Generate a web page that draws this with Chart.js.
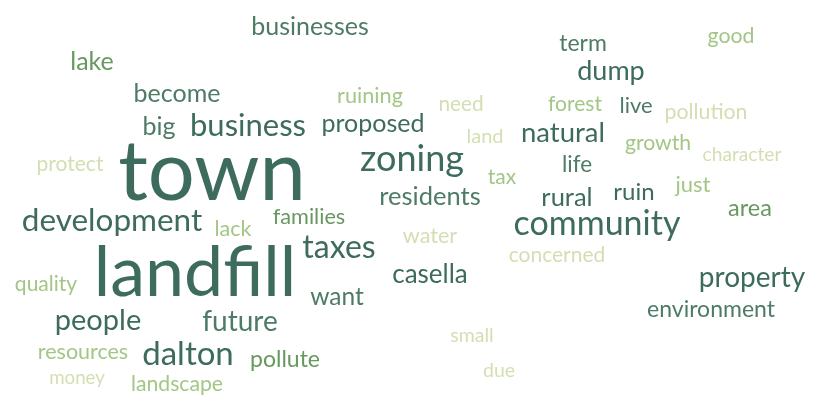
<!DOCTYPE html>
<html>
<head>
<meta charset="utf-8">
<script src="https://cdn.jsdelivr.net/npm/chart.js@4/dist/chart.umd.min.js"></script>
<style>
  html, body { margin: 0; padding: 0; background: #fff; }
  #wrap { width: 823px; height: 396px; }
</style>
</head>
<body>
<div id="wrap"><canvas id="cloud"></canvas></div>
<script>
// word cloud: each word sits at (x, y) on a hidden 823 x 396 grid
const words = ['town', 'landfill', 'zoning', 'community', 'development', 'business', 'natural',
  'dalton', 'taxes', 'people', 'property', 'dump', 'future', 'want', 'proposed', 'residents',
  'casella', 'businesses', 'become', 'big', 'lake', 'term', 'live', 'life', 'ruin', 'rural',
  'environment', 'families', 'pollute', 'area', 'ruining', 'lack', 'quality', 'resources',
  'landscape', 'tax', 'good', 'forest', 'growth', 'just', 'protect', 'need', 'land', 'water',
  'concerned', 'small', 'due', 'money', 'pollution', 'character']
const sizes = [83, 70, 36, 34, 31.5, 31, 27.5,
  33, 32, 29, 28, 27, 28, 24.5, 25, 25.5,
  26, 25, 25, 25, 25, 23, 22, 22.5, 24, 25.5,
  23, 21.7, 23, 23.5, 21.7, 21.6, 21, 21.5,
  21.2, 21, 21.3, 21, 21.2, 22, 21, 20.8, 20, 21.6,
  21, 19.5, 19.5, 18.7, 21.3, 19.2]
const xPos = [212, 195, 412, 597, 112, 248, 563,
  188, 339, 98, 752, 611, 240, 337, 373, 430,
  430, 310, 177, 159, 92, 583, 636, 577, 634, 567,
  711, 309, 285, 750, 370, 233, 46, 83,
  177, 502, 731, 575, 658, 693, 70, 461, 485, 430,
  557, 472, 499, 77, 706, 742]
const yPos = [172, 271, 160, 225, 222, 124, 132,
  353, 246, 322, 279, 72, 320, 296, 124, 195,
  273, 25, 92, 127, 60, 43, 105, 163, 191, 196,
  308, 216, 360, 210, 97, 228, 285, 353,
  385, 176, 37, 103, 144, 186, 165, 103, 136, 235,
  254, 335, 370, 380, 113, 154]
// 0 darkest .. 4 palest
const shade = [0, 0, 0, 0, 0, 0, 0,
  0, 0, 0, 0, 0, 1, 1, 0, 1,
  0, 1, 1, 1, 2, 1, 1, 1, 0, 0,
  1, 2, 2, 2, 3, 3, 3, 3,
  3, 3, 3, 3, 3, 3, 4, 4, 4, 4,
  4, 4, 4, 4, 4, 4]

const palette = ['#3d6b5e', '#4d7b66', '#67985f', '#a3c686', '#d3dfb2']

const wordPlugin = {
  id: 'wordLabels',
  afterDatasetsDraw(chart) {
    const ctx = chart.ctx
    const xs = chart.scales.x
    const ys = chart.scales.y
    ctx.save()
    ctx.textAlign = 'center'
    ctx.textBaseline = 'alphabetic'
    words.forEach((w, i) => {
      ctx.font = sizes[i] + 'px Lato'
      ctx.fillStyle = palette[shade[i]]
      const m = ctx.measureText(w)
      // centre the ink box on the point
      const off = (m.actualBoundingBoxAscent - m.actualBoundingBoxDescent) / 2
      ctx.fillText(w, xs.getPixelForValue(xPos[i]), ys.getPixelForValue(yPos[i]) + off)
    })
    ctx.restore()
  }
}

new Chart(document.getElementById('cloud'), {
  type: 'scatter',
  data: {
    datasets: [{
      data: words.map((w, i) => ({x: xPos[i], y: yPos[i]})),
      pointRadius: 0,
      pointHoverRadius: 0
    }]
  },
  options: {
    responsive: true,
    maintainAspectRatio: false,
    animation: false,
    layout: { padding: 0 },
    plugins: { legend: { display: false }, tooltip: { enabled: false } },
    scales: {
      x: { type: 'linear', min: 0, max: 823, display: false },
      y: { type: 'linear', min: 0, max: 396, reverse: true, display: false }
    }
  },
  plugins: [wordPlugin]
})
</script>
</body>
</html>
